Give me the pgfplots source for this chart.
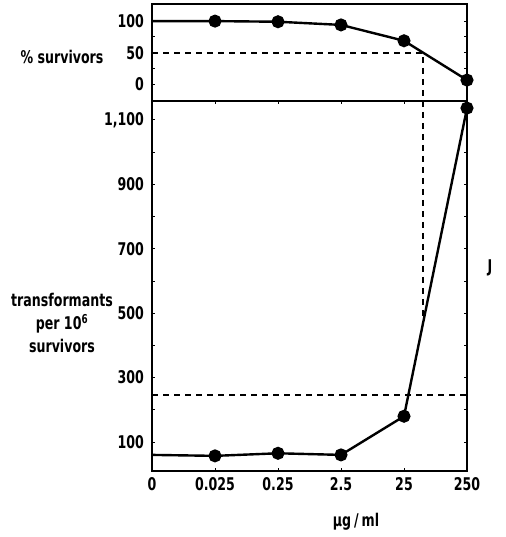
\documentclass[border=0pt]{standalone}
\usepackage{pgfplots}
\pgfplotsset{compat=1.18}
\usepackage{fontspec}
\setmainfont{DejaVu Sans}[FakeStretch=0.72]
\tikzset{dsh/.style={black, line width=1.5pt, dash pattern=on 6pt off 5pt}}
\begin{document}
\fontsize{17.5}{20}\selectfont\bfseries
\begin{tikzpicture}
\path[use as bounding box] (0pt,0pt) rectangle (505pt,537pt);
\pgfplotsset{
  panel/.style={scale only axis, width=315pt, xmin=0, xmax=5, anchor=south west,
    axis line style={line width=2.2pt}, clip=false,
    tick style={black, line width=1pt}, major tick length=3pt, minor tick length=3pt,
    tick align=inside, /pgf/number format/assume math mode=true,
    yticklabel style={xshift=-2pt}},
  dat/.style={black, line width=2.4pt, mark=*, mark size=5.3pt, mark indices={2,3,4,5,6}},
}
\begin{axis}[panel, at={(152pt,436pt)}, height=97pt, ymin=-26, ymax=127,
  ytick={0,50,100}, minor ytick={25,75}, xtick=\empty]
\addplot[dat] coordinates {(0,100)(1,100)(2,99)(3,94)(4,69)(5,7)};
\draw[dsh] (axis cs:0,50) -- (axis cs:4.3,50) -- (axis cs:4.3,-26);
\end{axis}
\begin{axis}[panel, at={(152pt,66pt)}, height=370pt, ymin=10, ymax=1159,
  ytick={100,300,...,1100}, minor ytick={200,400,...,1000},
  xtick={0,...,5}, xticklabels={0,0.025,0.25,2.5,25,250},
  /pgf/number format/1000 sep={,}]
\addplot[dat] coordinates {(0,60)(1,57)(2,65)(3,60)(4,180)(5,1137)};
\draw[dsh] (axis cs:0,246) -- (axis cs:5,246);
\draw[dsh] (axis cs:4.3,1159) -- (axis cs:4.3,467);
\end{axis}
\node at (62pt,480pt) {\% survivors};
\node[align=center, font=\fontsize{17.5}{23}\selectfont\bfseries] at (62pt,214pt) {transformants\\per 10\textsuperscript{6}\\survivors};
\node at (490pt,269pt) {J};
\node at (356pt,15pt) {μg\,/\,ml};
\end{tikzpicture}
\end{document}
